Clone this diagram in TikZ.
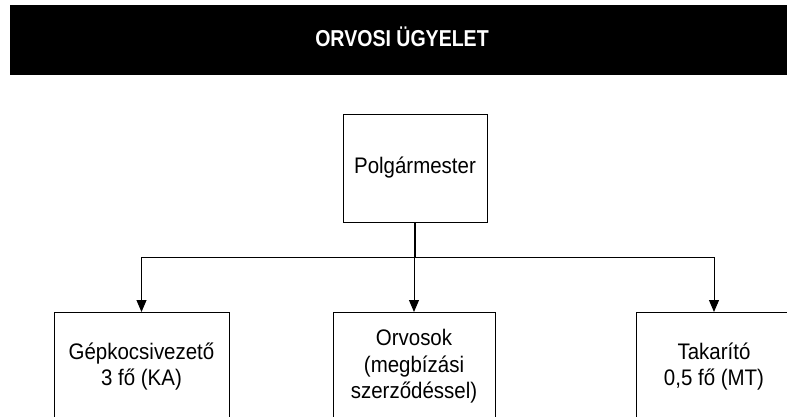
\documentclass[tikz,border=0pt]{standalone}
\usepackage{fontspec}
\setmainfont{Liberation Sans}[FakeStretch=0.91]
\newfontfamily\titlefont{Liberation Sans}[FakeStretch=0.85]
\usetikzlibrary{arrows.meta}
\tikzset{
  orgbox/.style={draw=black, line width=0.9pt, fill=white, inner sep=0pt, align=center,
    font=\fontsize{22.5}{26.5}\selectfont},
  conn/.style={line width=1pt},
  arr/.style={conn, -{Triangle[width=10pt,length=12pt]}},
}
\begin{document}
\begin{tikzpicture}[x=1pt,y=-1pt]
\useasboundingbox (0,0) rectangle (787,417);
\clip (0,0) rectangle (787,417);
\fill[white] (0,0) rectangle (787,417);
\node[fill=black, inner sep=0pt, minimum width=777pt, minimum height=70pt, anchor=north west] (header) at (10,5) {};
\node[text=white, font=\titlefont\bfseries\fontsize{23}{26}\selectfont, anchor=base, inner sep=0pt] (title) at (402,47) {ORVOSI ÜGYELET};
\node[orgbox, minimum width=144pt, minimum height=108pt] (pm) at (415,168) {Polgármester};
\node[orgbox, minimum width=175pt, minimum height=108pt, anchor=north] (left) at (141.5,312) {Gépkocsivezető\\3 fő (KA)};
\node[orgbox, minimum width=162pt, minimum height=108pt, anchor=north] (mid) at (414,312) {Orvosok\\(megbízási\\szerződéssel)};
\node[orgbox, minimum width=156pt, minimum height=108pt, anchor=north] (right) at (714,312) {Takarító\\0,5 fő (MT)};
\coordinate (bus) at (415,257);
\draw[conn, line width=1.6pt] (pm.south) -- (bus);
\draw[arr] (bus) -| (left.north);
\draw[arr] (bus) -| (right.north);
\draw[arr] (bus) -- (bus -| mid.north) -- (mid.north);
\end{tikzpicture}
\end{document}
